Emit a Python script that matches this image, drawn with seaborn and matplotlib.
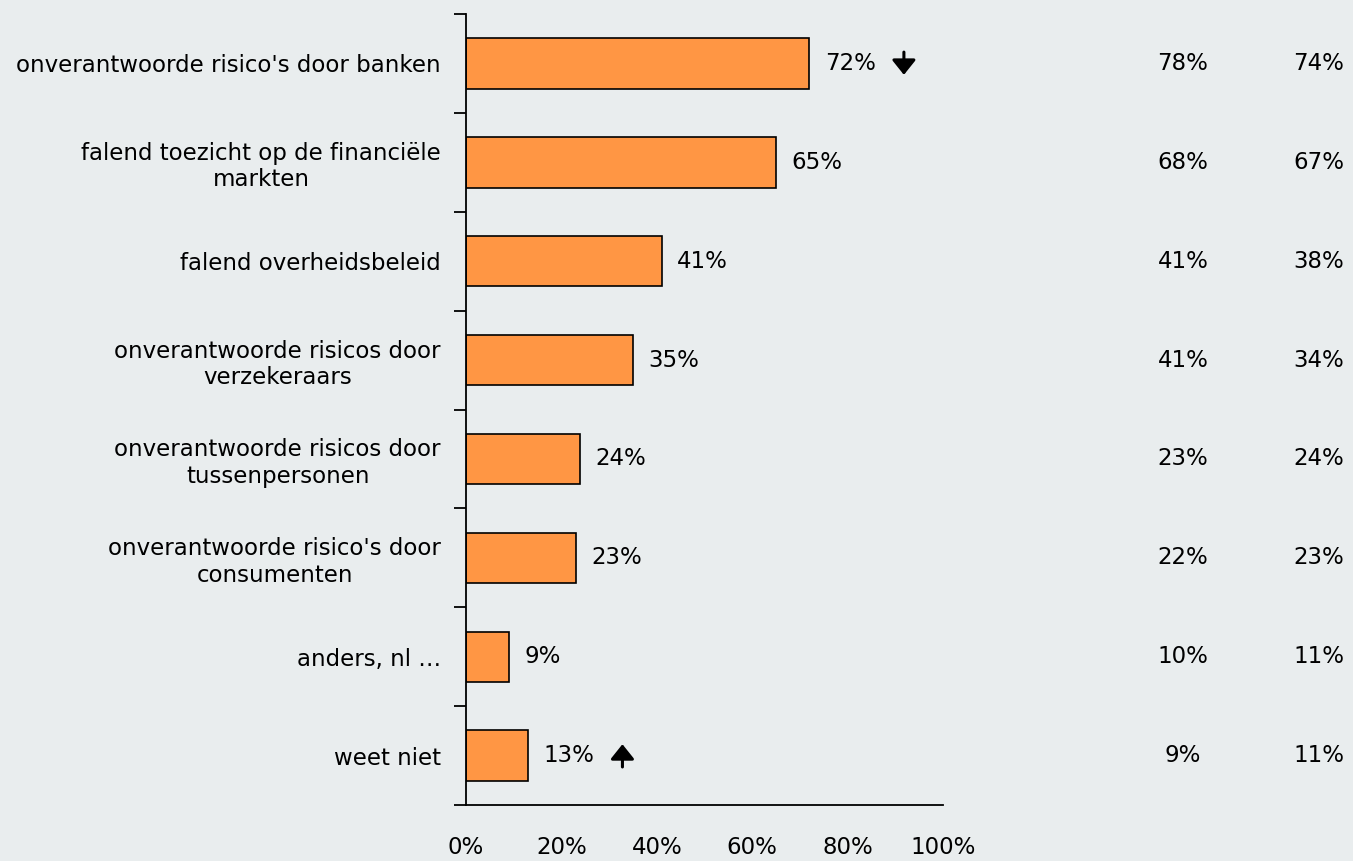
import matplotlib
matplotlib.use('Agg')
import matplotlib.pyplot as plt
import matplotlib.transforms as mtransforms
from matplotlib.ticker import FixedLocator
import pandas as pd
import seaborn as sns

# data
categories = ["onverantwoorde risico's door banken",
              "falend toezicht op de financiële\nmarkten",
              "falend overheidsbeleid",
              "onverantwoorde risicos door\nverzekeraars",
              "onverantwoorde risicos door\ntussenpersonen",
              "onverantwoorde risico's door\nconsumenten",
              "anders, nl …",
              "weet niet"]
current = [72, 65, 41, 35, 24, 23, 9, 13]
earlier_1 = [78, 68, 41, 41, 23, 22, 10, 9]
earlier_2 = [74, 67, 38, 34, 24, 23, 11, 11]
# significante verandering: -1 omlaag, 1 omhoog, 0 geen
change = [-1, 0, 0, 0, 0, 0, 0, 1]
xticks = [0, 20, 40, 60, 80, 100]

bg = '#E9EDEE'
fs = 16.5
sns.set_theme(style='white', rc={'text.color': 'black', 'xtick.color': 'black',
                                 'ytick.color': 'black', 'axes.labelcolor': 'black'})
plt.rcParams['font.family'] = ['DejaVu Sans']

df = pd.DataFrame({'oorzaak': categories, 'pct': current})

fig = plt.figure(figsize=(13.53, 8.61), dpi=100, facecolor=bg)
ax = fig.add_axes([0.3444, 0.065, 0.3526, 0.9187], facecolor=bg)

sns.barplot(data=df, y='oorzaak', x='pct', orient='h', color='#FF9644',
            saturation=1, edgecolor='black', linewidth=1.2, width=0.51, ax=ax)

ax.set_xlim(0, 100)
ax.set_ylim(len(categories) - 0.5, -0.5)
ax.set_xlabel('')
ax.set_ylabel('')

for s in ['top', 'right']:
    ax.spines[s].set_visible(False)
for s in ['left', 'bottom']:
    ax.spines[s].set_color('black')
    ax.spines[s].set_linewidth(1.3)

ax.set_xticks(xticks)
ax.set_xticklabels([f'{t}%' for t in xticks], fontsize=fs)
ax.tick_params(axis='x', direction='out', length=7, width=1.3, color='black', pad=15)

ax.set_yticks(range(len(categories)))
ax.set_yticklabels(categories, fontsize=fs, multialignment='center')
ax.tick_params(axis='y', which='major', length=0, pad=18)
ax.yaxis.set_minor_locator(FixedLocator([i - 0.5 for i in range(len(categories) + 1)]))
ax.tick_params(axis='y', which='minor', direction='out', length=9, width=1.3, color='black', left=True)

ax.bar_label(ax.containers[0], labels=[f'{v}%' for v in current], padding=11, fontsize=fs, color='black')

# pijltjes voor significante verschillen
arrow_tr = mtransforms.offset_copy(ax.transData, fig=fig, x=68, y=0, units='points')
for i, (v, c) in enumerate(zip(current, change)):
    if c != 0:
        ax.annotate('', xy=(v, i + 0.115 * -c), xycoords=arrow_tr,
                    xytext=(v, i - 0.115 * -c), textcoords=arrow_tr,
                    arrowprops=dict(arrowstyle='-|>,head_width=0.4,head_length=0.5',
                                    color='black', lw=2.2, mutation_scale=18,
                                    shrinkA=0, shrinkB=0))

trans = mtransforms.blended_transform_factory(fig.transFigure, ax.transData)
for i, (a, b) in enumerate(zip(earlier_1, earlier_2)):
    ax.text(1183 / 1353, i, f'{a}%', transform=trans, ha='center', va='center', fontsize=fs, color='black')
    ax.text(1319 / 1353, i, f'{b}%', transform=trans, ha='center', va='center', fontsize=fs, color='black')

fig.savefig('out.png', dpi=100, facecolor=bg)
